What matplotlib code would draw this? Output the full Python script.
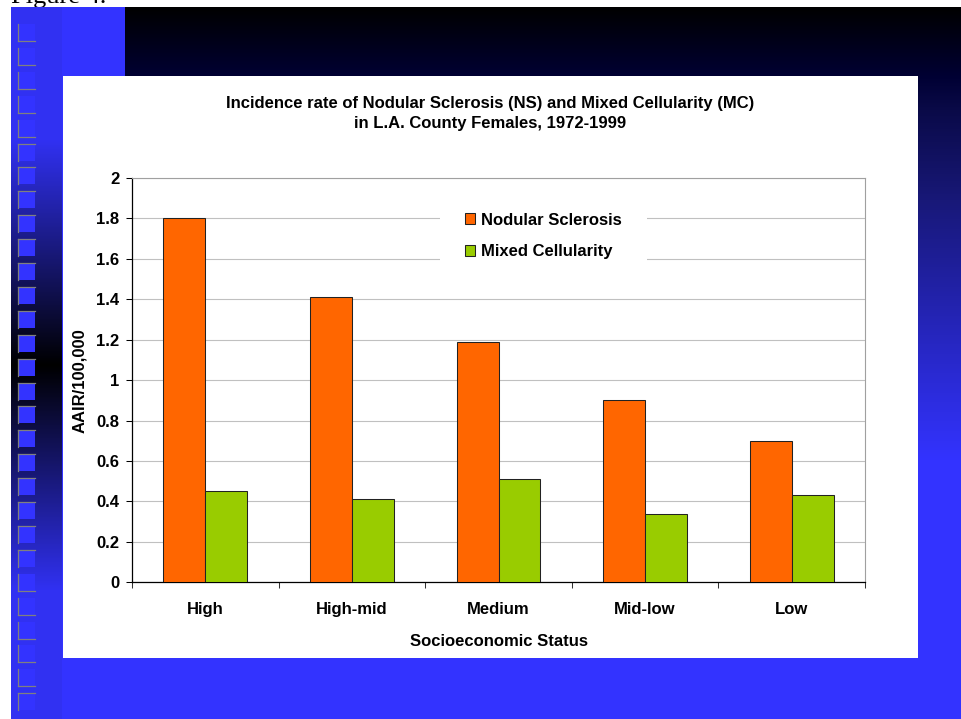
import numpy as np
import matplotlib.pyplot as plt
from matplotlib.patches import Rectangle, Patch
from matplotlib.colors import to_rgb

# chart data
categories = ["High", "High-mid", "Medium", "Mid-low", "Low"]
nodular_sclerosis = [1.80, 1.41, 1.19, 0.90, 0.70]
mixed_cellularity = [0.45, 0.41, 0.51, 0.34, 0.43]
y_ticks = [0, 0.2, 0.4, 0.6, 0.8, 1.0, 1.2, 1.4, 1.6, 1.8, 2.0]
y_tick_labels = ["0", "0.2", "0.4", "0.6", "0.8", "1", "1.2", "1.4", "1.6", "1.8", "2"]
series_names = ["Nodular Sclerosis", "Mixed Cellularity"]
title = ("Incidence rate of Nodular Sclerosis (NS) and Mixed Cellularity (MC)\n"
         "in L.A. County Females, 1972-1999")

W, H = 961, 719
ORANGE = "#FF6600"
GREEN = "#99CC00"
BLUE = "#3333FF"
FONT = "Liberation Sans"
FS = 12


def vgradient(y0, y1, stops):
    """Column of RGB rows between pixel rows y0 and y1, following (y, colour) stops."""
    rows = np.arange(y0, y1) + 0.5
    ys = [s[0] for s in stops]
    cols = np.array([to_rgb(s[1]) for s in stops])
    img = np.stack([np.interp(rows, ys, cols[:, i]) for i in range(3)], axis=-1)
    return img[:, None, :]


fig = plt.figure(figsize=(W / 100, H / 100), dpi=100)
fig.patch.set_facecolor("white")

# slide background, drawn in pixel coordinates
bg = fig.add_axes([0, 0, 1, 1], zorder=-1)
bg.set_xlim(0, W)
bg.set_ylim(H, 0)
bg.axis("off")

bg.text(11, 3, "Figure 4.", family="Liberation Serif", fontsize=19, va="baseline", zorder=0)
bg.add_patch(Rectangle((11, 7), W - 11, H - 7, color=BLUE, lw=0, zorder=1))

top_band = vgradient(7, 460, [(7, "#000000"), (76, "#000033"), (110, "#0a0a48"),
                              (200, "#181878"), (460, BLUE)])
bg.imshow(top_band, extent=(125, W, 460, 7), origin="upper", aspect="auto", zorder=2)

left_band = vgradient(7, H, [(7, "#3131F2"), (140, "#3131F2"), (365, "#000000"),
                             (590, "#3131F2"), (H, "#3131F2")])
bg.imshow(left_band, extent=(11, 62, H, 7), origin="upper", aspect="auto", zorder=2)

# column of little squares on the left
for k in range(29):
    y = 24 + k * 23.9
    bg.add_patch(Rectangle((18, y), 17, 17, color=BLUE, lw=0, zorder=3))
    bg.plot([18, 18], [y, y + 17], color="#808080", lw=0.9, zorder=4)
    edge = y if (140 < y < 560 or k == 28) else y + 17
    bg.plot([18, 35], [edge, edge], color="#808080", lw=0.9, zorder=4)

# white chart panel
bg.add_patch(Rectangle((63, 76), 855, 582, color="white", lw=0, zorder=5))
bg.set_xlim(0, W)
bg.set_ylim(H, 0)

# the chart itself
ax = fig.add_axes([132 / W, 1 - 582.3 / H, 733 / W, (582.3 - 178) / H], zorder=1)
ax.set_facecolor("white")

x = np.arange(len(categories))
width = 1 / 3.5
ax.bar(x - width / 2, nodular_sclerosis, width, color=ORANGE, edgecolor="#222222",
       lw=0.75, zorder=3)
ax.bar(x + width / 2, mixed_cellularity, width, color=GREEN, edgecolor="#222222",
       lw=0.75, zorder=3)

ax.set_xlim(-0.5, len(categories) - 0.5)
ax.set_ylim(0, 2)
ax.set_yticks(y_ticks)
ax.set_yticklabels(y_tick_labels, family=FONT, fontsize=FS, fontweight="bold")
ax.set_xticks(x)
ax.set_xticklabels(categories, family=FONT, fontsize=FS, fontweight="bold")
ax.set_xticks(np.arange(len(categories) + 1) - 0.5, minor=True)
ax.tick_params(axis="x", which="major", length=0, pad=14)
ax.tick_params(axis="x", which="minor", length=4, width=0.75, direction="out", color="#333333")
ax.tick_params(axis="y", length=4, width=0.75, direction="out", pad=5)

ax.yaxis.grid(True, color="#C0C0C0", lw=0.8)
ax.set_axisbelow(True)
for side in ("top", "right"):
    ax.spines[side].set_color("#A0A0A0")
    ax.spines[side].set_linewidth(0.8)
for side in ("left", "bottom"):
    ax.spines[side].set_color("black")
    ax.spines[side].set_linewidth(0.9)

ax.set_ylabel("AAIR/100,000", family=FONT, fontsize=FS, fontweight="bold", va="center")
ax.yaxis.set_label_coords((80 - 132) / 733, 0.5)
ax.set_xlabel("Socioeconomic Status", family=FONT, fontsize=FS, fontweight="bold", va="center")
ax.xaxis.set_label_coords(0.5, (582.3 - 641) / 404.3)

handles = [Patch(facecolor=ORANGE, edgecolor="#222222", lw=0.75),
           Patch(facecolor=GREEN, edgecolor="#222222", lw=0.75)]
leg = ax.legend(handles, series_names, loc="center",
                bbox_to_anchor=((543.5 - 132) / 733, (582.3 - 236) / 404.3),
                prop={"family": FONT, "size": FS, "weight": "bold"},
                frameon=True, facecolor="white", edgecolor="none", framealpha=1,
                fancybox=False, borderpad=1.5, handlelength=0.6, handleheight=0.6,
                handletextpad=0.35, labelspacing=1.0)
leg.set_zorder(4)

fig.text(490 / W, 1 - 113.5 / H, title, ha="center", va="center", multialignment="center",
         family=FONT, fontsize=FS, fontweight="bold", linespacing=1.35, zorder=6)

fig.savefig("out.png", dpi=100)
